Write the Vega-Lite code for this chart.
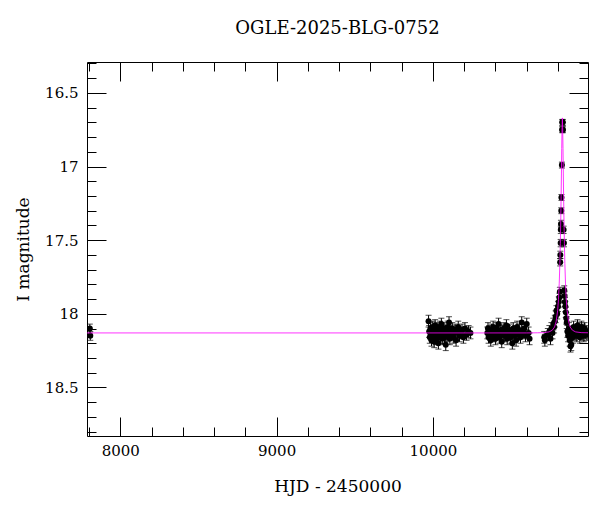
{
  "$schema": "https://vega.github.io/schema/vega-lite/v6.json",
  "width": 501,
  "height": 374,
  "autosize": {"type": "none"},
  "padding": {"left": 87, "top": 62, "right": 12, "bottom": 76},
  "background": "white",
  "title": {"text": "OGLE-2025-BLG-0752", "font": "DejaVu Serif", "fontSize": 18, "fontWeight": "normal", "color": "black", "anchor": "middle", "offset": 18},
  "config": {
    "view": {"stroke": null},
    "axis": {"domainColor": "black", "domainWidth": 1, "tickColor": "black", "tickWidth": 1, "grid": false, "labelFont": "DejaVu Serif", "labelFontSize": 15, "labelColor": "black", "titleFont": "DejaVu Serif", "titleFontSize": 17, "titleFontWeight": "normal", "titleColor": "black", "labelOverlap": false}
  },
  "datasets": {
    "obs": [
      {"t": 7805, "mag": 18.10, "err": 0.03},
      {"t": 7808, "mag": 18.15, "err": 0.03},
      {"t": 9972, "mag": 18.05, "err": 0.04},
      {"t": 9976, "mag": 18.12, "err": 0.04},
      {"t": 9980, "mag": 18.16, "err": 0.04},
      {"t": 9984, "mag": 18.10, "err": 0.04},
      {"t": 9988, "mag": 18.14, "err": 0.04},
      {"t": 9991, "mag": 18.18, "err": 0.04},
      {"t": 9995, "mag": 18.13, "err": 0.04},
      {"t": 9999, "mag": 18.09, "err": 0.04},
      {"t": 10002, "mag": 18.15, "err": 0.04},
      {"t": 10005, "mag": 18.11, "err": 0.04},
      {"t": 10008, "mag": 18.19, "err": 0.04},
      {"t": 10011, "mag": 18.14, "err": 0.04},
      {"t": 10014, "mag": 18.08, "err": 0.04},
      {"t": 10017, "mag": 18.13, "err": 0.04},
      {"t": 10020, "mag": 18.17, "err": 0.04},
      {"t": 10023, "mag": 18.12, "err": 0.04},
      {"t": 10026, "mag": 18.10, "err": 0.04},
      {"t": 10029, "mag": 18.15, "err": 0.04},
      {"t": 10032, "mag": 18.13, "err": 0.04},
      {"t": 10035, "mag": 18.20, "err": 0.04},
      {"t": 10038, "mag": 18.11, "err": 0.04},
      {"t": 10041, "mag": 18.14, "err": 0.04},
      {"t": 10044, "mag": 18.09, "err": 0.04},
      {"t": 10047, "mag": 18.16, "err": 0.04},
      {"t": 10050, "mag": 18.12, "err": 0.04},
      {"t": 10054, "mag": 18.07, "err": 0.04},
      {"t": 10057, "mag": 18.13, "err": 0.04},
      {"t": 10060, "mag": 18.17, "err": 0.04},
      {"t": 10063, "mag": 18.11, "err": 0.04},
      {"t": 10066, "mag": 18.14, "err": 0.04},
      {"t": 10070, "mag": 18.10, "err": 0.04},
      {"t": 10074, "mag": 18.16, "err": 0.04},
      {"t": 10078, "mag": 18.13, "err": 0.04},
      {"t": 10082, "mag": 18.21, "err": 0.04},
      {"t": 10086, "mag": 18.12, "err": 0.04},
      {"t": 10090, "mag": 18.15, "err": 0.04},
      {"t": 10094, "mag": 18.09, "err": 0.04},
      {"t": 10098, "mag": 18.13, "err": 0.04},
      {"t": 10103, "mag": 18.06, "err": 0.04},
      {"t": 10108, "mag": 18.17, "err": 0.04},
      {"t": 10113, "mag": 18.12, "err": 0.04},
      {"t": 10118, "mag": 18.14, "err": 0.04},
      {"t": 10124, "mag": 18.10, "err": 0.04},
      {"t": 10130, "mag": 18.16, "err": 0.04},
      {"t": 10136, "mag": 18.13, "err": 0.04},
      {"t": 10142, "mag": 18.11, "err": 0.04},
      {"t": 10148, "mag": 18.18, "err": 0.04},
      {"t": 10155, "mag": 18.12, "err": 0.04},
      {"t": 10162, "mag": 18.09, "err": 0.04},
      {"t": 10170, "mag": 18.15, "err": 0.04},
      {"t": 10178, "mag": 18.13, "err": 0.04},
      {"t": 10186, "mag": 18.11, "err": 0.04},
      {"t": 10195, "mag": 18.16, "err": 0.04},
      {"t": 10205, "mag": 18.10, "err": 0.04},
      {"t": 10215, "mag": 18.14, "err": 0.04},
      {"t": 10228, "mag": 18.12, "err": 0.04},
      {"t": 10240, "mag": 18.13, "err": 0.04},
      {"t": 10348, "mag": 18.13, "err": 0.04},
      {"t": 10352, "mag": 18.10, "err": 0.04},
      {"t": 10356, "mag": 18.16, "err": 0.04},
      {"t": 10360, "mag": 18.12, "err": 0.04},
      {"t": 10365, "mag": 18.14, "err": 0.04},
      {"t": 10370, "mag": 18.18, "err": 0.04},
      {"t": 10375, "mag": 18.11, "err": 0.04},
      {"t": 10380, "mag": 18.13, "err": 0.04},
      {"t": 10385, "mag": 18.09, "err": 0.04},
      {"t": 10390, "mag": 18.15, "err": 0.04},
      {"t": 10395, "mag": 18.12, "err": 0.04},
      {"t": 10400, "mag": 18.17, "err": 0.04},
      {"t": 10405, "mag": 18.10, "err": 0.04},
      {"t": 10410, "mag": 18.14, "err": 0.04},
      {"t": 10415, "mag": 18.12, "err": 0.04},
      {"t": 10420, "mag": 18.07, "err": 0.04},
      {"t": 10425, "mag": 18.16, "err": 0.04},
      {"t": 10430, "mag": 18.13, "err": 0.04},
      {"t": 10435, "mag": 18.11, "err": 0.04},
      {"t": 10440, "mag": 18.19, "err": 0.04},
      {"t": 10445, "mag": 18.12, "err": 0.04},
      {"t": 10450, "mag": 18.14, "err": 0.04},
      {"t": 10455, "mag": 18.10, "err": 0.04},
      {"t": 10460, "mag": 18.15, "err": 0.04},
      {"t": 10465, "mag": 18.13, "err": 0.04},
      {"t": 10470, "mag": 18.08, "err": 0.04},
      {"t": 10475, "mag": 18.17, "err": 0.04},
      {"t": 10480, "mag": 18.12, "err": 0.04},
      {"t": 10485, "mag": 18.14, "err": 0.04},
      {"t": 10490, "mag": 18.11, "err": 0.04},
      {"t": 10496, "mag": 18.16, "err": 0.04},
      {"t": 10502, "mag": 18.13, "err": 0.04},
      {"t": 10508, "mag": 18.20, "err": 0.04},
      {"t": 10514, "mag": 18.10, "err": 0.04},
      {"t": 10520, "mag": 18.15, "err": 0.04},
      {"t": 10526, "mag": 18.12, "err": 0.04},
      {"t": 10532, "mag": 18.18, "err": 0.04},
      {"t": 10538, "mag": 18.09, "err": 0.04},
      {"t": 10545, "mag": 18.14, "err": 0.04},
      {"t": 10552, "mag": 18.11, "err": 0.04},
      {"t": 10560, "mag": 18.16, "err": 0.04},
      {"t": 10568, "mag": 18.06, "err": 0.04},
      {"t": 10576, "mag": 18.13, "err": 0.04},
      {"t": 10584, "mag": 18.10, "err": 0.04},
      {"t": 10592, "mag": 18.15, "err": 0.04},
      {"t": 10600, "mag": 18.07, "err": 0.04},
      {"t": 10612, "mag": 18.13, "err": 0.04},
      {"t": 10618, "mag": 18.17, "err": 0.04},
      {"t": 10712, "mag": 18.16, "err": 0.04},
      {"t": 10716, "mag": 18.18, "err": 0.04},
      {"t": 10735, "mag": 18.14, "err": 0.04},
      {"t": 10745, "mag": 18.12, "err": 0.04},
      {"t": 10752, "mag": 18.17, "err": 0.04},
      {"t": 10758, "mag": 18.10, "err": 0.04},
      {"t": 10765, "mag": 18.13, "err": 0.04},
      {"t": 10770, "mag": 18.07, "err": 0.04},
      {"t": 10775, "mag": 18.09, "err": 0.04},
      {"t": 10780, "mag": 18.05, "err": 0.04},
      {"t": 10785, "mag": 18.02, "err": 0.04},
      {"t": 10790, "mag": 17.98, "err": 0.035},
      {"t": 10795, "mag": 18.00, "err": 0.035},
      {"t": 10800, "mag": 17.95, "err": 0.035},
      {"t": 10805, "mag": 17.92, "err": 0.035},
      {"t": 10809, "mag": 17.89, "err": 0.03},
      {"t": 10812, "mag": 17.85, "err": 0.03},
      {"t": 10814, "mag": 17.65, "err": 0.025},
      {"t": 10815, "mag": 17.60, "err": 0.025},
      {"t": 10817, "mag": 17.52, "err": 0.025},
      {"t": 10818, "mag": 17.43, "err": 0.025},
      {"t": 10819, "mag": 17.39, "err": 0.025},
      {"t": 10821, "mag": 17.30, "err": 0.02},
      {"t": 10822, "mag": 17.21, "err": 0.02},
      {"t": 10825, "mag": 16.99, "err": 0.02},
      {"t": 10826, "mag": 16.75, "err": 0.02},
      {"t": 10827, "mag": 16.70, "err": 0.02},
      {"t": 10831, "mag": 16.70, "err": 0.02},
      {"t": 10832, "mag": 16.75, "err": 0.02},
      {"t": 10836, "mag": 17.43, "err": 0.025},
      {"t": 10838, "mag": 17.52, "err": 0.025},
      {"t": 10840, "mag": 17.84, "err": 0.03},
      {"t": 10842, "mag": 17.88, "err": 0.03},
      {"t": 10844, "mag": 17.92, "err": 0.03},
      {"t": 10847, "mag": 17.95, "err": 0.035},
      {"t": 10850, "mag": 17.99, "err": 0.035},
      {"t": 10853, "mag": 18.03, "err": 0.04},
      {"t": 10856, "mag": 18.06, "err": 0.04},
      {"t": 10860, "mag": 18.12, "err": 0.04},
      {"t": 10865, "mag": 18.15, "err": 0.04},
      {"t": 10870, "mag": 18.10, "err": 0.04},
      {"t": 10875, "mag": 18.18, "err": 0.04},
      {"t": 10880, "mag": 18.22, "err": 0.04},
      {"t": 10885, "mag": 18.21, "err": 0.04},
      {"t": 10890, "mag": 18.13, "err": 0.04},
      {"t": 10895, "mag": 18.16, "err": 0.04},
      {"t": 10900, "mag": 18.09, "err": 0.04},
      {"t": 10905, "mag": 18.12, "err": 0.04},
      {"t": 10910, "mag": 18.14, "err": 0.04},
      {"t": 10915, "mag": 18.11, "err": 0.04},
      {"t": 10920, "mag": 18.15, "err": 0.04},
      {"t": 10925, "mag": 18.08, "err": 0.04},
      {"t": 10930, "mag": 18.13, "err": 0.04},
      {"t": 10935, "mag": 18.10, "err": 0.04},
      {"t": 10940, "mag": 18.16, "err": 0.04},
      {"t": 10945, "mag": 18.12, "err": 0.04},
      {"t": 10950, "mag": 18.09, "err": 0.04},
      {"t": 10955, "mag": 18.14, "err": 0.04},
      {"t": 10960, "mag": 18.11, "err": 0.04},
      {"t": 10965, "mag": 18.15, "err": 0.04},
      {"t": 10970, "mag": 18.10, "err": 0.04},
      {"t": 10975, "mag": 18.13, "err": 0.04},
      {"t": 10980, "mag": 18.12, "err": 0.04},
      {"t": 10985, "mag": 18.14, "err": 0.04}
    ],
    "model": [
      {"t": 7787, "mag": 18.130},
      {"t": 10600, "mag": 18.130},
      {"t": 10668, "mag": 18.129},
      {"t": 10708, "mag": 18.128},
      {"t": 10743, "mag": 18.123},
      {"t": 10763, "mag": 18.112},
      {"t": 10778, "mag": 18.090},
      {"t": 10788, "mag": 18.054},
      {"t": 10798, "mag": 17.976},
      {"t": 10803, "mag": 17.904},
      {"t": 10808, "mag": 17.792},
      {"t": 10812, "mag": 17.659},
      {"t": 10815, "mag": 17.524},
      {"t": 10818, "mag": 17.348},
      {"t": 10820, "mag": 17.205},
      {"t": 10822, "mag": 17.044},
      {"t": 10824, "mag": 16.877},
      {"t": 10826, "mag": 16.737},
      {"t": 10828, "mag": 16.670},
      {"t": 10830, "mag": 16.737},
      {"t": 10832, "mag": 16.877},
      {"t": 10834, "mag": 17.044},
      {"t": 10836, "mag": 17.205},
      {"t": 10838, "mag": 17.348},
      {"t": 10841, "mag": 17.524},
      {"t": 10844, "mag": 17.659},
      {"t": 10848, "mag": 17.792},
      {"t": 10853, "mag": 17.904},
      {"t": 10858, "mag": 17.976},
      {"t": 10868, "mag": 18.054},
      {"t": 10878, "mag": 18.090},
      {"t": 10893, "mag": 18.112},
      {"t": 10913, "mag": 18.123},
      {"t": 10948, "mag": 18.128},
      {"t": 10992, "mag": 18.129}
    ]
  },
  "layer": [
    {
      "data": {"name": "obs"},
      "encoding": {
        "x": {"field": "t", "type": "quantitative", "scale": {"domain": [7787, 10992], "nice": false, "zero": false},
          "axis": {"orient": "bottom", "title": "HJD - 2450000", "titlePadding": 10,
            "values": [7800, 8000, 8200, 8400, 8600, 8800, 9000, 9200, 9400, 9600, 9800, 10000, 10200, 10400, 10600, 10800],
            "format": "d", "labelExpr": "datum.value % 1000 === 0 ? datum.label : ''",
            "tickSize": {"condition": {"test": "datum.value % 1000 === 0", "value": -19}, "value": -9},
            "labelPadding": 26}},
        "y": {"field": "mag", "type": "quantitative", "scale": {"domain": [16.29, 18.83], "reverse": true, "nice": false, "zero": false},
          "axis": {"orient": "left", "title": "I magnitude", "titlePadding": 12,
            "values": [16.3, 16.4, 16.5, 16.6, 16.7, 16.8, 16.9, 17, 17.1, 17.2, 17.3, 17.4, 17.5, 17.6, 17.7, 17.8, 17.9, 18, 18.1, 18.2, 18.3, 18.4, 18.5, 18.6, 18.7, 18.8],
            "format": "~g", "labelExpr": "abs(datum.value*2 - round(datum.value*2)) < 0.001 ? datum.label : ''",
            "tickSize": {"condition": {"test": "abs(datum.value*2 - round(datum.value*2)) < 0.001", "value": -19}, "value": -9},
            "labelPadding": 28}}
      },
      "layer": [
        {"mark": {"type": "errorbar", "ticks": {"size": 6, "color": "black"}, "color": "black", "clip": true},
         "encoding": {"yError": {"field": "err"}}},
        {"mark": {"type": "point", "filled": true, "color": "black", "size": 36, "opacity": 1, "clip": true}}
      ]
    },
    {
      "data": {"name": "model"},
      "mark": {"type": "line", "color": "#ff00ff", "strokeWidth": 0.8, "clip": true},
      "encoding": {
        "x": {"field": "t", "type": "quantitative",
          "axis": {"orient": "top", "title": null, "labels": false,
            "values": [7800, 8000, 8200, 8400, 8600, 8800, 9000, 9200, 9400, 9600, 9800, 10000, 10200, 10400, 10600, 10800],
            "tickSize": {"condition": {"test": "datum.value % 1000 === 0", "value": -19}, "value": -9}}},
        "y": {"field": "mag", "type": "quantitative",
          "axis": {"orient": "right", "title": null, "labels": false,
            "values": [16.3, 16.4, 16.5, 16.6, 16.7, 16.8, 16.9, 17, 17.1, 17.2, 17.3, 17.4, 17.5, 17.6, 17.7, 17.8, 17.9, 18, 18.1, 18.2, 18.3, 18.4, 18.5, 18.6, 18.7, 18.8],
            "tickSize": {"condition": {"test": "abs(datum.value*2 - round(datum.value*2)) < 0.001", "value": -19}, "value": -9}}}
      }
    }
  ],
  "resolve": {"axis": {"x": "independent", "y": "independent"}}
}
